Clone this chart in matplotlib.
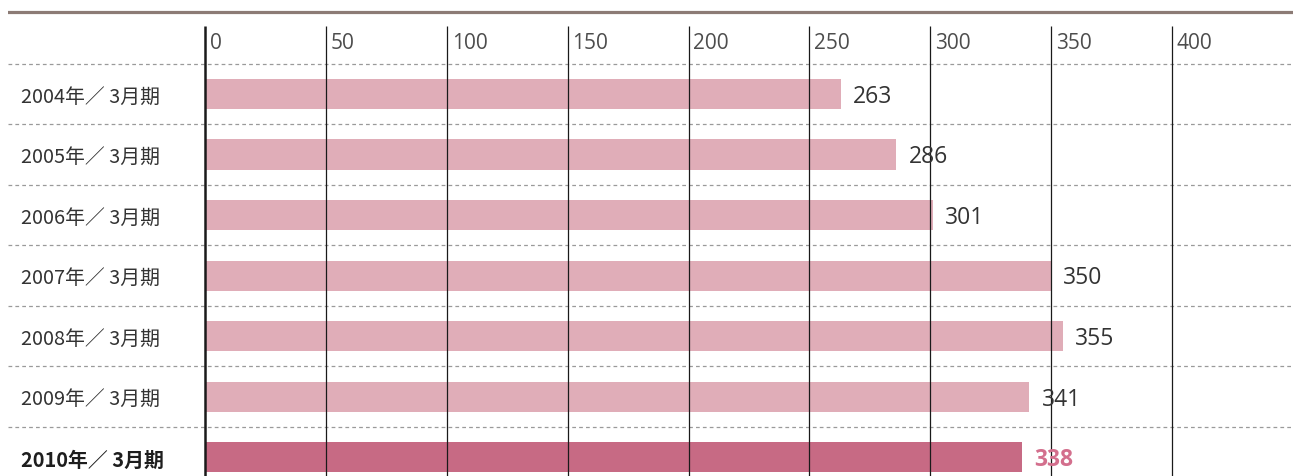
import matplotlib
matplotlib.use('Agg')
import matplotlib.pyplot as plt

plt.rcParams['font.family'] = ['Noto Sans CJK JP', 'DejaVu Sans']
num_font = ['Open Sans', 'Noto Sans CJK JP', 'DejaVu Sans']

periods = ['2004年／ 3月期', '2005年／ 3月期', '2006年／ 3月期', '2007年／ 3月期',
           '2008年／ 3月期', '2009年／ 3月期', '2010年／ 3月期']
values = [263, 286, 301, 350, 355, 341, 338]
ticks = [0, 50, 100, 150, 200, 250, 300, 350, 400]

bar_color = '#e0adb8'
last_color = '#c76a84'
last_text = '#d36f8d'
text_color = '#333333'

fig = plt.figure(figsize=(13.01, 4.77), dpi=100)
ax = fig.add_axes([8 / 1301, 0, 1285 / 1301, 1])
ax.set_xlim(-81.5, 450)
ax.set_ylim(6.31, -1.57)
ax.axis('off')

# top rule
ax.axhline(-1.355, color='#8c7b75', lw=2.3)

# row separators
for i in range(len(periods)):
    ax.axhline(i - 0.5, color='#9a9a9a', lw=0.9, ls=(0, (3, 2.5)), zorder=1)

# vertical grid
for t in ticks:
    ax.vlines(t, -1.12, 6.31, color='#1a1a1a', lw=1.8 if t == 0 else 0.9, zorder=3)
    ax.text(t + 2.0, -0.85, str(t), ha='left', va='center', fontsize=15,
            color='#4d4d4d', family=num_font)

n = len(periods)
colors = [bar_color] * (n - 1) + [last_color]
ax.barh(range(n), values, height=0.5, color=colors, zorder=2)

for i, (p, v) in enumerate(zip(periods, values)):
    last = i == n - 1
    ax.text(-76, i + 0.03, p, ha='left', va='center', fontsize=14.3,
            color='#1e1e1e' if last else text_color,
            fontweight='bold' if last else 'normal')
    ax.text(v + 5, i + 0.03, str(v), ha='left', va='center', fontsize=16.5,
            color=last_text if last else text_color,
            fontweight='bold' if last else 'normal', family=num_font)

fig.savefig('out.png', dpi=100)
